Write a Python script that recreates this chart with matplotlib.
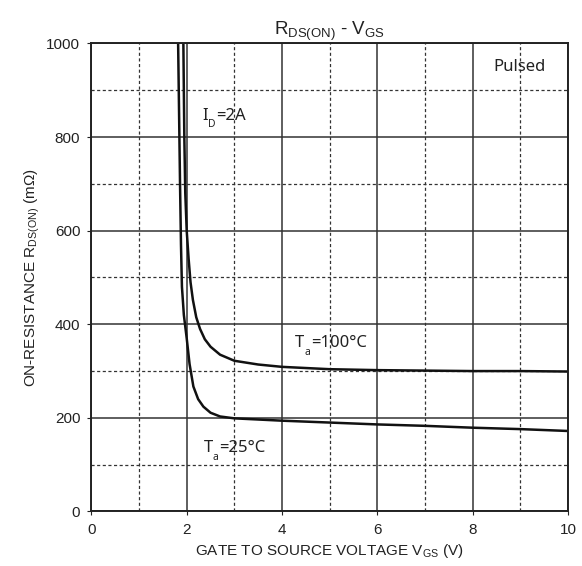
import numpy as np
import matplotlib
matplotlib.use("Agg")
import matplotlib.pyplot as plt

plt.rcParams['font.family'] = ['Liberation Sans', 'DejaVu Sans']
plt.rcParams['mathtext.fontset'] = 'custom'
plt.rcParams['mathtext.rm'] = 'Liberation Sans'

# Ta = 25C curve
vgs_25 = [1.82, 1.84, 1.86, 1.88, 1.90, 1.94, 2.00, 2.06, 2.14, 2.24, 2.35, 2.50,
          2.70, 3.00, 4.00, 5.00, 6.00, 7.00, 8.00, 9.00, 10.0]
rds_25 = [1000, 850, 700, 570, 480, 420, 370, 315, 267, 240, 224, 211,
          203, 199, 194, 190, 186, 183, 179, 176, 172]

# Ta = 100C curve
vgs_100 = [1.93, 1.95, 1.97, 2.00, 2.04, 2.08, 2.13, 2.20, 2.28, 2.38, 2.50, 2.70,
           3.00, 3.50, 4.00, 5.00, 6.00, 7.00, 8.00, 9.00, 10.0]
rds_100 = [1000, 800, 680, 600, 540, 490, 452, 415, 390, 368, 352, 335,
           322, 314, 309, 304, 302, 301, 300, 300, 299]

xticks = [0, 2, 4, 6, 8, 10]
yticks = [0, 200, 400, 600, 800, 1000]

fig = plt.figure(figsize=(5.82, 5.66), dpi=100)
ax = fig.add_axes([0.157, 0.0963, 0.819, 0.827])

ax.set_xlim(0, 10)
ax.set_ylim(0, 1000)
ax.set_xticks(xticks)
ax.set_yticks(yticks)
ax.set_xticks(np.arange(1, 10, 2), minor=True)
ax.set_yticks(np.arange(100, 1000, 200), minor=True)

ax.grid(which='major', color='#333333', linewidth=1.1, linestyle='-')
ax.grid(which='minor', color='#333333', linewidth=0.9, linestyle=(0, (2.5, 2)))
ax.tick_params(which='minor', length=0)
ax.tick_params(which='major', length=3, direction='out', labelsize=11,
               colors='#222222', pad=5)
ax.set_axisbelow(True)

for s in ax.spines.values():
    s.set_linewidth(1.4)
    s.set_color('#222222')

ax.plot(vgs_25, rds_25, color='#111111', linewidth=1.8, solid_capstyle='butt')
ax.plot(vgs_100, rds_100, color='#111111', linewidth=1.8, solid_capstyle='butt')

ax.set_title(r'R$_{\mathregular{DS(ON)}}$ - V$_{\mathregular{GS}}$', fontsize=13.5, pad=6,
             color='#222222')
ax.set_xlabel(r'GATE TO SOURCE VOLTAGE V$_{\mathregular{GS}}$ (V)', fontsize=11,
              labelpad=4, color='#222222')
ax.set_ylabel(r'ON-RESISTANCE R$_{\mathregular{DS(ON)}}$ (m$\Omega$)', fontsize=11,
              labelpad=3, color='#222222')

ann = ['Noto Sans', 'DejaVu Sans']


def sub_label(x, y, main, sub, rest, size=12):
    t1 = ax.text(x, y, main, fontsize=size, family=ann, va='bottom', color='#222222')
    t2 = ax.annotate(sub, xy=(1, 0), xycoords=t1, xytext=(0.3, -4.5),
                     textcoords='offset points', fontsize=size * 0.62, family=ann,
                     va='bottom', ha='left', color='#222222')
    ax.annotate(rest, xy=(1, 0), xycoords=(t2, t1), xytext=(0.3, 0),
                textcoords='offset points', fontsize=size, family=ann,
                va='bottom', ha='left', color='#222222')


sub_label(2.32, 828, 'I', 'D', '=2A')
sub_label(4.27, 342, 'T', 'a', '=100°C')
sub_label(2.35, 118, 'T', 'a', '=25°C')
ax.text(8.43, 950, 'Pulsed', fontsize=12, family=ann, va='center', color='#222222')

fig.savefig('out.png', dpi=100)
